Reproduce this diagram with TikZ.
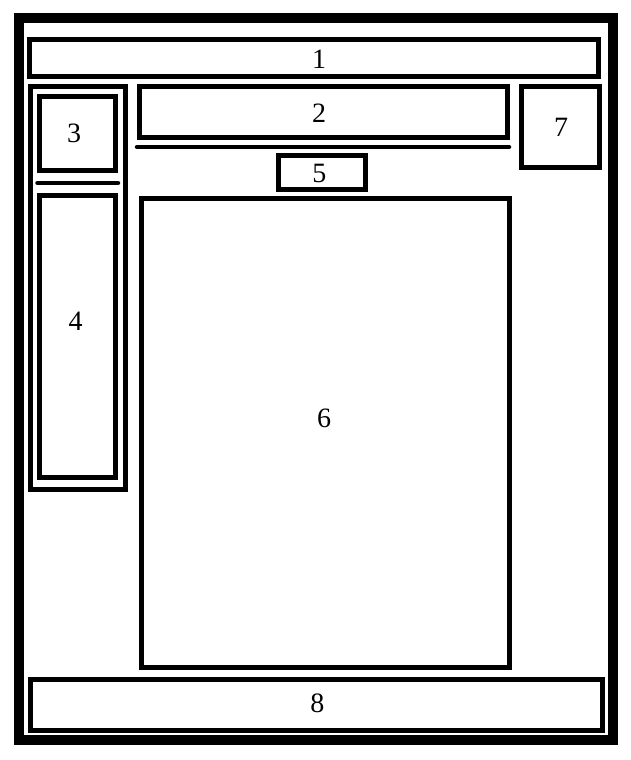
\documentclass[tikz,border=0pt]{standalone}
\usepackage{fontspec}
\setmainfont{Liberation Serif}
\usepackage{tikz}

\begin{document}
\begin{tikzpicture}[x=1pt, y=-1pt,
    box/.style={line width=5pt},
    rule/.style={line width=4.5pt, line cap=round},
    digit/.style={font=\fontsize{28}{30}\selectfont, inner sep=0pt}]
    \useasboundingbox (0,0) rectangle (630,760);
    % 1. Outer frame
    \draw[line width=10pt] (19,18) rectangle (612.5,740);

    % 2. Header, top bar and side box
    \draw[box] (29,39.5) rectangle (598,76.5);
    \draw[box] (139.5,86.5) rectangle (507.5,137.5);
    \draw[rule] (137,147) -- (509,147);
    \draw[box] (521.5,86) rectangle (599,167.5);

    % 3. Left column
    \draw[box] (30.5,86.5) rectangle (125.5,489.5);
    \draw[box] (39,96.5) rectangle (115.5,170.5);
    \draw[rule] (37.5,183) -- (118,183);
    \draw[box] (39,195.5) rectangle (115.5,477.5);

    % 4. Middle and footer
    \draw[box] (278.5,155.5) rectangle (365.5,189.5);
    \draw[box] (141.5,198.5) rectangle (509.5,667.5);
    \draw[box] (30.5,679) rectangle (602,730.5);

    % 5. Labels
    \foreach \n/\x/\y in {1/319/59.5, 2/319/113, 3/74/133, 4/75.5/321,
                          5/319.3/173, 6/324/418.5, 7/561/127, 8/317.3/703.5} {
        \node[digit] (t\n) at (\x,\y) {\n};
    }
\end{tikzpicture}
\end{document}
